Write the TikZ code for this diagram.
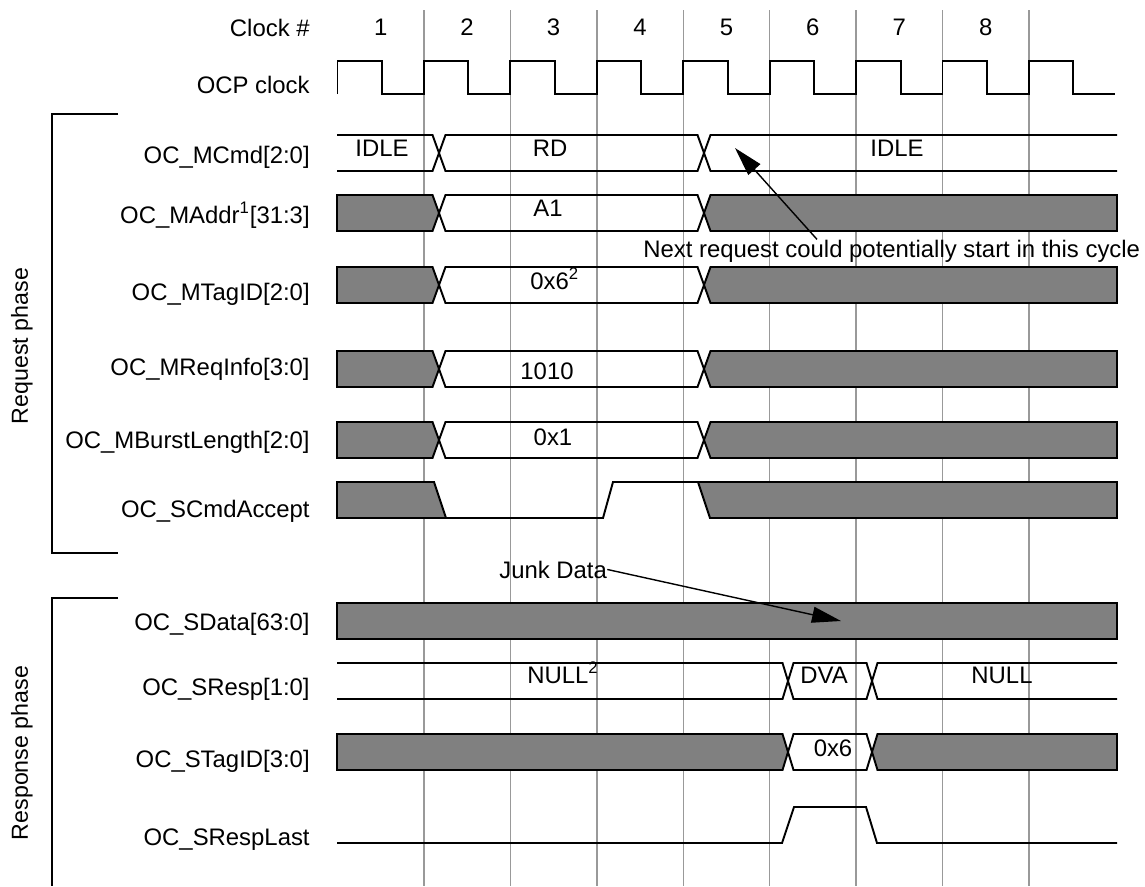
\documentclass[tikz,border=0pt]{standalone}
\usepackage{fontspec}
\setmainfont{Liberation Sans}
\usetikzlibrary{calc,arrows.meta}

\begin{document}
\begin{tikzpicture}[x=0.02cm,y=-0.02cm,
    wave/.style={line width=1.1pt,black},
    busgray/.style={wave,fill=black!50},
    gridline/.style={line width=0.8pt,black!40},
    sig/.style={anchor=base east,inner sep=0pt,font=\fontsize{13.6}{16}\selectfont},
    val/.style={anchor=base,inner sep=0pt,font=\fontsize{13.6}{16}\selectfont},
    note/.style={-{Triangle[length=5.8mm,width=3.2mm]},line width=0.8pt}]
    \useasboundingbox (0,0) rectangle (1145,886);
    \foreach \k in {0,...,7}
        \draw[gridline] (424+86.43*\k,10) -- (424+86.43*\k,886);
    \draw[wave] (337.5,94) \foreach \k in {0,...,8} {
        -- (337.5+86.43*\k,61) -- (382+86.43*\k,61) -- (382+86.43*\k,94) -- (423.93+86.43*\k,94)};
    \foreach \k in {1,...,8}
        \node[val] (clk\k) at (380.7+86.43*\k-86.43,35) {\k};
    \node[sig] (lclock) at (310,36) {Clock \#};
    \node[sig] (locp) at (310,93) {OCP clock};
    \node[sig] (lmcmd) at (310,163) {OC\_MCmd[2:0]};
    \node[sig] (lmaddr) at (310,223) {OC\_MAddr\textsuperscript{1}[31:3]};
    \node[sig] (lmtag) at (310,300) {OC\_MTagID[2:0]};
    \node[sig] (lmreq) at (310,375) {OC\_MReqInfo[3:0]};
    \node[sig] (lmburst) at (310,448) {OC\_MBurstLength[2:0]};
    \node[sig] (lsacc) at (310,517) {OC\_SCmdAccept};
    \node[sig] (lsdata) at (310,630) {OC\_SData[63:0]};
    \node[sig] (lsresp) at (310,695) {OC\_SResp[1:0]};
    \node[sig] (lstag) at (310,767) {OC\_STagID[3:0]};
    \node[sig] (lslast) at (310,845) {OC\_SRespLast};
    \draw[wave] (118,114) -- (52,114) -- (52,553) -- (118,553);
    \draw[wave] (118,598) -- (52,598) -- (52,886);
    \node[val,anchor=center,rotate=90,font=\fontsize{13.2}{16}\selectfont] (reqphase) at (22,346) {Request phase};
    \node[val,anchor=center,rotate=90,font=\fontsize{13.2}{16}\selectfont] (respphase) at (22,753) {Response phase};
    \draw[wave] (337,135) -- (432.5,135) -- (439,153) -- (432.5,171) -- (337,171);
    \draw[wave] (439,153) -- (445.5,135) -- (697.5,135) -- (704,153) -- (697.5,171) -- (445.5,171) -- cycle;
    \draw[wave] (1117,135) -- (710.5,135) -- (704,153) -- (710.5,171) -- (1117,171);
    \foreach \y in {213,285,369,440} {
        \draw[busgray] (337,\y-18) -- (432.5,\y-18) -- (439,\y) -- (432.5,\y+18) -- (337,\y+18) -- cycle;
        \draw[wave] (439,\y) -- (445.5,\y-18) -- (697.5,\y-18) -- (704,\y) -- (697.5,\y+18) -- (445.5,\y+18) -- cycle;
        \draw[busgray] (704,\y) -- (710.5,\y-18) -- (1117,\y-18) -- (1117,\y+18) -- (710.5,\y+18) -- cycle;
    }
    \draw[busgray] (337,482) -- (434,482) -- (446,518) -- (337,518) -- cycle;
    \draw[wave] (446,518) -- (603,518) -- (613,482) -- (698,482);
    \draw[busgray] (698,482) -- (1117,482) -- (1117,518) -- (710,518) -- cycle;
    \draw[busgray] (337,603) rectangle (1117,639);
    \draw[wave] (337,663) -- (782.5,663) -- (788,681) -- (782.5,699) -- (337,699);
    \draw[wave] (788,681) -- (793.5,663) -- (866.5,663) -- (872,681) -- (866.5,699) -- (793.5,699) -- cycle;
    \draw[wave] (1117,663) -- (877.5,663) -- (872,681) -- (877.5,699) -- (1117,699);
    \draw[busgray] (337,734) -- (782.5,734) -- (788,752) -- (782.5,770) -- (337,770) -- cycle;
    \draw[wave] (788,752) -- (793.5,734) -- (866.5,734) -- (872,752) -- (866.5,770) -- (793.5,770) -- cycle;
    \draw[busgray] (872,752) -- (877.5,734) -- (1117,734) -- (1117,770) -- (877.5,770) -- cycle;
    \draw[wave] (337,843) -- (782,843) -- (794,807) -- (866,807) -- (877,843) -- (1117,843);
    \node[val] (idle1) at (382,156) {IDLE};
    \node[val] (rd) at (550,156) {RD};
    \node[val] (idle2) at (897,156) {IDLE};
    \node[val] (a1) at (548,216) {A1};
    \node[val,anchor=base west] (mtag) at (530,289) {0x6\textsuperscript{2}};
    \node[val] (mreq) at (547,379) {1010};
    \node[val] (mburst) at (553,445) {0x1};
    \node[val,anchor=base west] (null1) at (527,683) {NULL\textsuperscript{2}};
    \node[val] (dva) at (824,683) {DVA};
    \node[val] (null2) at (1002,683) {NULL};
    \node[val] (stag) at (833,756) {0x6};
    \node[val,anchor=base west] (nextreq) at (643,257) {Next request could potentially start in this cycle};
    \coordinate (nexttip) at (735,148);
    \draw[note] ([xshift=3.48cm]nextreq.north west) -- (nexttip);
    \node[val,anchor=base west] (junk) at (499,578) {Junk Data};
    \coordinate (junktip) at (841,621);
    \draw[note] (junk.east) -- (junktip);
\end{tikzpicture}
\end{document}
